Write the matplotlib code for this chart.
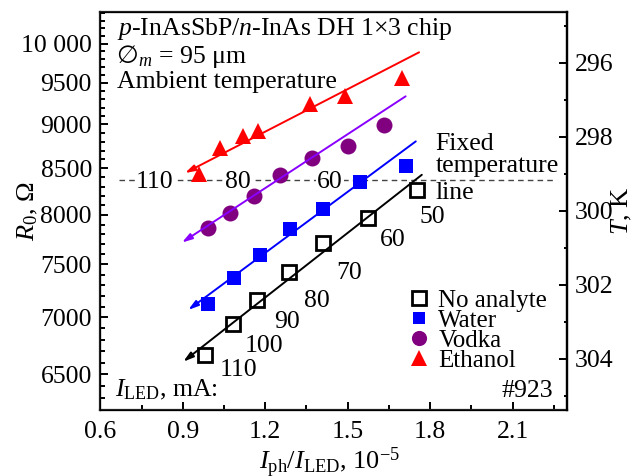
import matplotlib
matplotlib.use('Agg')
import matplotlib.pyplot as plt
import matplotlib.ticker as ticker

plt.rcParams['font.family'] = ['Liberation Serif', 'DejaVu Serif']
plt.rcParams['mathtext.fontset'] = 'custom'
plt.rcParams['mathtext.rm'] = 'Liberation Serif'
plt.rcParams['mathtext.it'] = 'Liberation Serif:italic'
plt.rcParams['font.size'] = 18.5

# ---- data ----
series_names = ['No analyte', 'Water', 'Vodka', 'Ethanol']
i_led_ma = [110, 100, 90, 80, 70, 60, 50]

ratio_none = [0.981, 1.084, 1.169, 1.288, 1.411, 1.575, 1.751]
r0_none = [6665, 6938, 7161, 7425, 7711, 7966, 8266]
ratio_water = [0.993, 1.087, 1.181, 1.289, 1.411, 1.545, 1.711]
r0_water = [7124, 7367, 7590, 7852, 8061, 8349, 8529]
ratio_vodka = [0.991, 1.072, 1.159, 1.254, 1.370, 1.503, 1.632]
r0_vodka = [7863, 8019, 8195, 8429, 8614, 8747, 8997]
ratio_ethanol = [0.959, 1.036, 1.118, 1.175, 1.363, 1.490, 1.697]
r0_ethanol = [8441, 8728, 8861, 8927, 9243, 9336, 9563]

# fitted lines (lower end carries the arrow)
fit_ratio_none = [0.902, 1.770]
fit_r0_none = [6608, 8429]
fit_ratio_water = [0.920, 1.748]
fit_r0_water = [7069, 8804]
fit_ratio_vodka = [0.897, 1.711]
fit_r0_vodka = [7717, 9336]
fit_ratio_ethanol = [0.908, 1.760]
fit_r0_ethanol = [8448, 9887]

fixed_r0 = 8374
fixed_line_labels = [110, 80, 60]

r0_ticks = [6500, 7000, 7500, 8000, 8500, 9000, 9500, 10000]
r0_tick_labels = ['6500', '7000', '7500', '8000', '8500', '9000', '9500', '10 000']
t_ticks = [296, 298, 300, 302, 304]
x_ticks = [0.6, 0.9, 1.2, 1.5, 1.8, 2.1]

# ---- layout ----
label_offsets = [(24, -9), (22, -14), (22, -14), (20, -19), (19, -20), (18, -14), (11, -18)]
fixed_label_x = [0.799, 1.101, 1.436]

fig = plt.figure(figsize=(6.4, 4.76), dpi=100)
ax = fig.add_axes([0.1567, 0.1387, 0.7287, 0.8361])

styles = [
    dict(marker='s', ms=10.5, mfc='white', mec='black', mew=2.0, line='black'),
    dict(marker='s', ms=9.5, mfc='#0000ff', mec='#0000ff', mew=0, line='#0000ff'),
    dict(marker='o', ms=11.5, mfc='#800080', mec='#800080', mew=0, line='#8a00ff'),
    dict(marker='^', ms=12, mfc='#ff0000', mec='#ff0000', mew=0, line='#ff0000'),
]
xs = [ratio_none, ratio_water, ratio_vodka, ratio_ethanol]
ys = [r0_none, r0_water, r0_vodka, r0_ethanol]
fxs = [fit_ratio_none, fit_ratio_water, fit_ratio_vodka, fit_ratio_ethanol]
fys = [fit_r0_none, fit_r0_water, fit_r0_vodka, fit_r0_ethanol]

for name, st, x, y, fx, fy in zip(series_names, styles, xs, ys, fxs, fys):
    ax.plot(x, y, ls='none', marker=st['marker'], ms=st['ms'], mfc=st['mfc'],
            mec=st['mec'], mew=st['mew'], label=name, zorder=3)
    ax.annotate('', xy=(fx[0], fy[0]), xytext=(fx[1], fy[1]),
                arrowprops=dict(arrowstyle='-|>,head_length=0.6,head_width=0.18',
                                color=st['line'], lw=1.4, shrinkA=0, shrinkB=0,
                                mutation_scale=10),
                zorder=4)

# fixed temperature line
ax.plot([0.668, 2.26], [fixed_r0, fixed_r0], ls=(0, (4, 3)), color='#444444', lw=1.0, zorder=2)
for xv, lab in zip(fixed_label_x, fixed_line_labels):
    ax.text(xv, fixed_r0, str(lab), ha='center', va='center_baseline', zorder=2.5,
            bbox=dict(facecolor='white', edgecolor='none', pad=0.5))

# I_LED labels next to the no-analyte points
for xv, yv, lab, off in zip(ratio_none, r0_none, i_led_ma, label_offsets):
    ax.annotate(str(lab), xy=(xv, yv), xytext=off, textcoords='offset points',
                ha='center', va='center_baseline')

ax.set_yscale('log')
ax.set_xlim(0.6, 2.297)
ax.set_ylim(6205, 10420)
ax.yaxis.set_major_locator(ticker.FixedLocator(r0_ticks))
ax.yaxis.set_major_formatter(ticker.FixedFormatter(r0_tick_labels))
ax.yaxis.set_minor_locator(ticker.FixedLocator([v for v in range(6300, 10500, 100) if v % 500]))
ax.yaxis.set_minor_formatter(ticker.NullFormatter())
ax.xaxis.set_major_locator(ticker.FixedLocator(x_ticks))
ax.xaxis.set_major_formatter(ticker.FormatStrFormatter('%.1f'))
ax.xaxis.set_minor_locator(ticker.MultipleLocator(0.15))
ax.tick_params(which='both', direction='in', top=False, right=False, width=1.4, labelsize=18.5)
ax.tick_params(which='major', length=6)
ax.tick_params(which='minor', length=3.5)
ax.tick_params(axis='y', pad=6)
ax.tick_params(axis='x', pad=8)
for s in ax.spines.values():
    s.set_linewidth(1.6)
    s.set_color('#222222')

ax.set_ylabel(r'$R_0$, Ω', fontsize=19)
ax.yaxis.set_label_coords(-0.13, 0.5)
ax.set_xlabel(r'$I_{\mathrm{ph}}/I_{\mathrm{LED}}$, 10$^{-5}$', fontsize=19)
ax.xaxis.set_label_coords(0.4925, -0.09)

ax2 = ax.twinx()
ax2.set_ylim(305.38, 294.63)
ax2.yaxis.set_major_locator(ticker.FixedLocator(t_ticks))
ax2.yaxis.set_minor_locator(ticker.FixedLocator([295, 297, 299, 301, 303, 305]))
ax2.tick_params(which='both', direction='in', width=1.4, labelsize=18.5, pad=6)
ax2.tick_params(which='major', length=6)
ax2.tick_params(which='minor', length=2.5)
ax2.spines['right'].set_linewidth(1.6)
ax2.set_ylabel(r'$T$, K', fontsize=19)
ax2.yaxis.set_label_coords(1.093, 0.5)

# header and notes
ax.text(0.035, 0.942, r'$p$-InAsSbP/$n$-InAs DH 1×3 chip', transform=ax.transAxes, va='baseline')
diam = ax.text(0.035, 0.871, '\u2205', family=['DejaVu Sans', 'Noto Sans', 'DejaVu Serif'],
               transform=ax.transAxes, va='baseline', fontsize=18)
ax.annotate(r'$_m$ = 95 μm', xy=(1.0, 0.871), xycoords=(diam, ax.transAxes), va='baseline')
ax.text(0.035, 0.808, 'Ambient temperature', transform=ax.transAxes, va='baseline')
ax.text(0.0315, 0.035, r'$I_{\mathrm{LED}}$, mA:', transform=ax.transAxes, va='baseline')
ax.text(0.971, 0.032, '#923', transform=ax.transAxes, va='baseline', ha='right')
ax.text(0.719, 0.653, 'Fixed', transform=ax.transAxes, va='baseline')
ax.text(0.719, 0.597, 'temperature', transform=ax.transAxes, va='baseline')
ax.text(0.719, 0.530, 'line', transform=ax.transAxes, va='baseline')

ax.legend(loc='center left', bbox_to_anchor=(0.6576, 0.199), frameon=False, borderpad=0,
          borderaxespad=0, handlelength=1.0, handletextpad=0.25, labelspacing=-0.1,
          fontsize=18, markerscale=0.95)

fig.savefig('out.png', dpi=100)
